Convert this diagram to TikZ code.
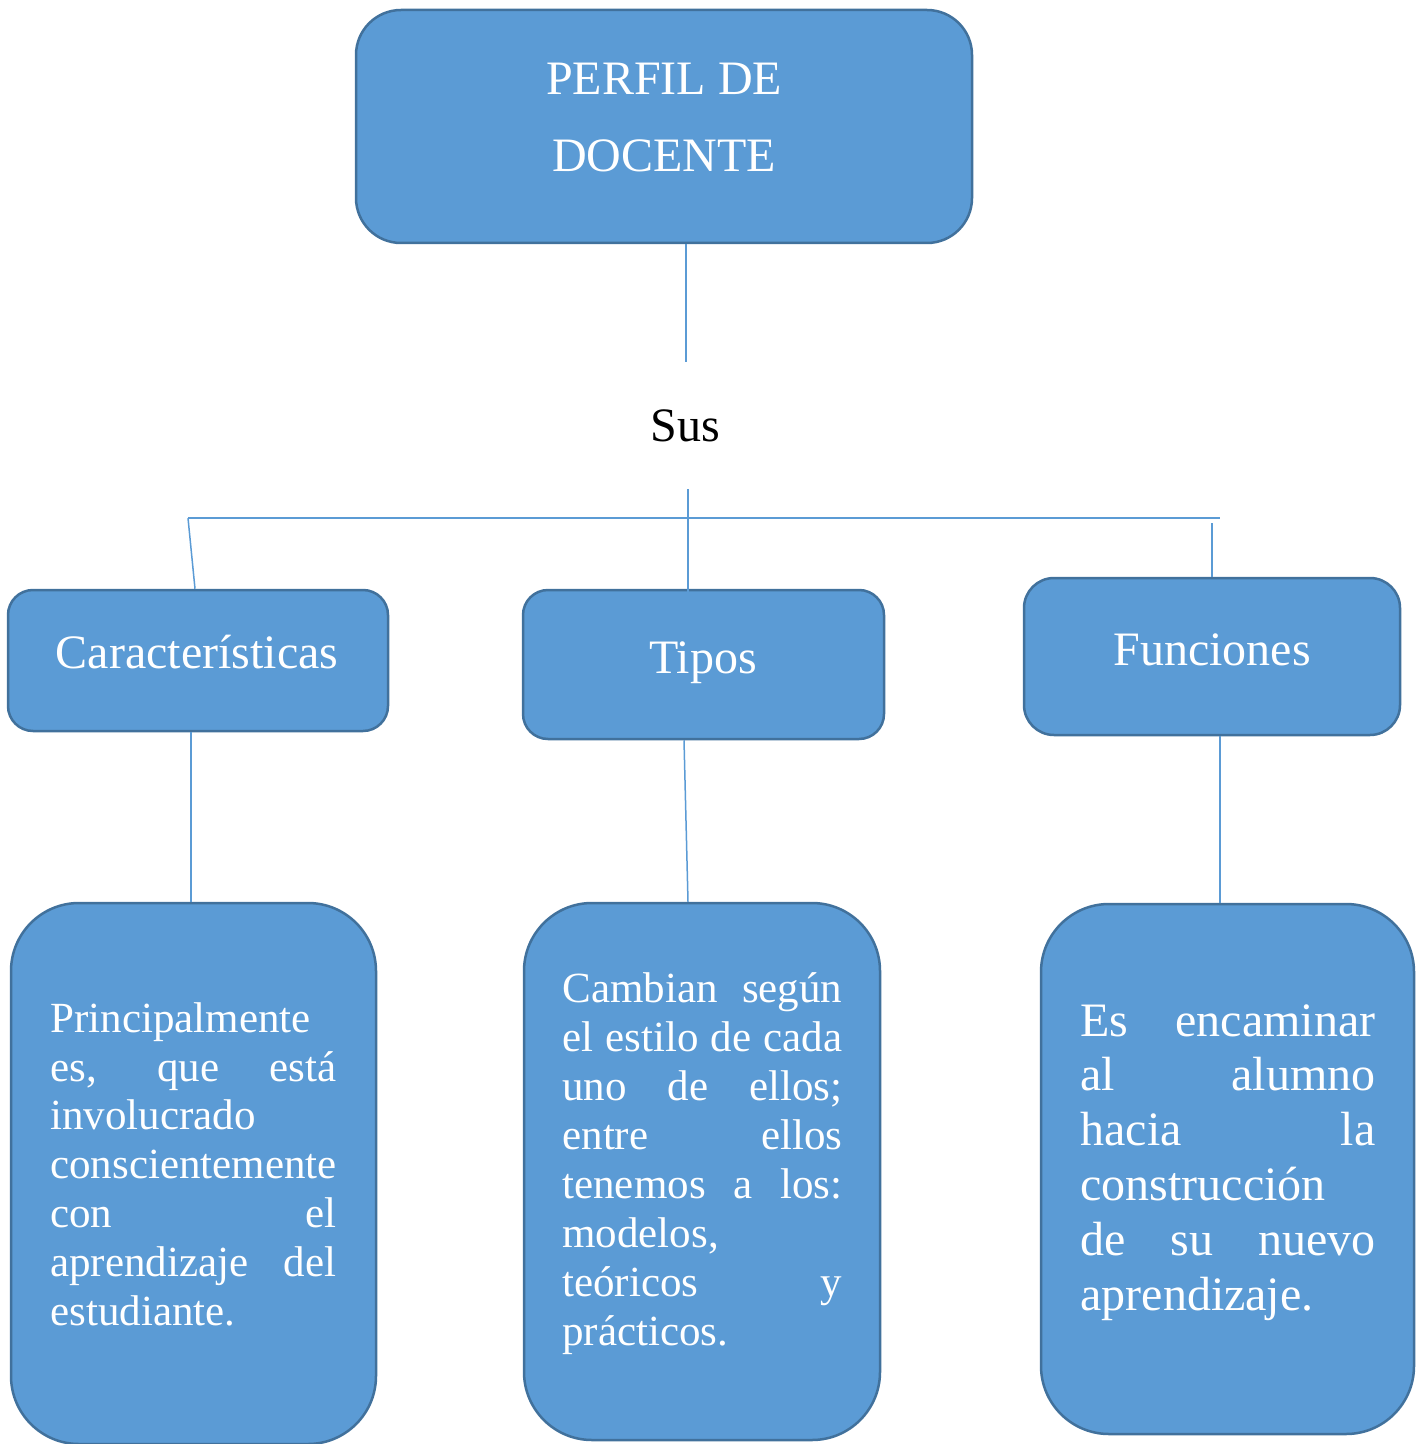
\documentclass[tikz,border=0pt]{standalone}
\usepackage{fontspec}
\setmainfont{Liberation Serif}
\definecolor{boxfill}{HTML}{5B9BD5}
\definecolor{boxline}{HTML}{41719C}
\definecolor{connline}{HTML}{5B9BD5}
\newcommand\jline[2]{\makebox[#1][s]{#2}}
\begin{document}
\begin{tikzpicture}[x=0.5pt,y=-0.5pt,
  box/.style={draw=boxline,fill=boxfill,line width=1.25pt,rounded corners=#1,inner sep=0pt},
  box/.default=12.5pt,
  conn/.style={draw=connline,line width=0.75pt},
  title/.style={text=white,font=\fontsize{24pt}{28pt}\selectfont,inner sep=0pt,anchor=base},
  para/.style={text=white,inner sep=0pt,anchor=base west,align=left}]
\useasboundingbox (0,0) rectangle (1422,1444);
% boxes
\node[box=22.5pt,minimum width=308pt,minimum height=116.5pt] (top) at (664,126.5) {};
\node[box=12.5pt,minimum width=190pt,minimum height=70.5pt] (car) at (198,660.5) {};
\node[box=12.5pt,minimum width=180.5pt,minimum height=74.5pt] (tip) at (703.5,664.5) {};
\node[box=15pt,minimum width=188pt,minimum height=78.5pt] (fun) at (1212,656.5) {};
\node[box=34pt,minimum width=182.5pt,minimum height=270.5pt] (b1) at (193.5,1173.5) {};
\node[box=34pt,minimum width=178pt,minimum height=268.5pt] (b2) at (702,1171.5) {};
\node[box=34pt,minimum width=186.5pt,minimum height=265pt] (b3) at (1227.5,1169) {};
% titles
\node[title] (t1) at (664,95) {PERFIL DE};
\node[title] (t2) at (664,172) {DOCENTE};
\node[title,text=black] (sus) at (685,441) {Sus};
\node[title] (tcar) at (197,668) {Características};
\node[title] (ttip) at (703,673) {Tipos};
\node[title] (tfun) at (1212,665) {Funciones};
% paragraphs (anchored at the baseline of their last line)
\node[para,font=\fontsize{21.5pt}{24.4pt}\selectfont] (p1) at (50,1325) {%
Principalmente\\
\jline{143pt}{es, que está}\\
involucrado\\
conscientemente\\
\jline{143pt}{con el}\\
\jline{143pt}{aprendizaje del}\\
estudiante.};
\node[para,font=\fontsize{21.5pt}{24.5pt}\selectfont] (p2) at (562,1345) {%
\jline{140pt}{Cambian según}\\
\jline{140pt}{el estilo de cada}\\
\jline{140pt}{uno de ellos;}\\
\jline{140pt}{entre ellos}\\
\jline{140pt}{tenemos a los:}\\
modelos,\\
\jline{140pt}{teóricos y}\\
prácticos.};
\node[para,font=\fontsize{24pt}{27.4pt}\selectfont] (p3) at (1080,1310) {%
\jline{147.5pt}{Es encaminar}\\
\jline{147.5pt}{al alumno}\\
\jline{147.5pt}{hacia la}\\
construcción\\
\jline{147.5pt}{de su nuevo}\\
aprendizaje.};
% connectors
\coordinate (s1) at (686,362);
\coordinate (s2) at (688,489);
\coordinate (hl) at (188,518);
\coordinate (hr) at (1220,518);
\coordinate (f1) at (1212,523);
\draw[conn] (top.south -| s1) -- (s1);
\draw[conn] (s2) -- ([yshift=-2pt]s2 |- tip.north);
\draw[conn] (hl) -- (hr);
\draw[conn] (hl) -- ([xshift=-1.5pt]car.north);
\draw[conn] (f1) -- (f1 |- fun.north);
\draw[conn] ([xshift=-3.5pt]car.south) -- ([xshift=-1.25pt]b1.north);
\draw[conn] ([xshift=-9.75pt]tip.south) -- ([xshift=-7pt]b2.north);
\draw[conn] ([xshift=4pt]fun.south) -- ([xshift=-3.75pt]b3.north);
\end{tikzpicture}
\end{document}
